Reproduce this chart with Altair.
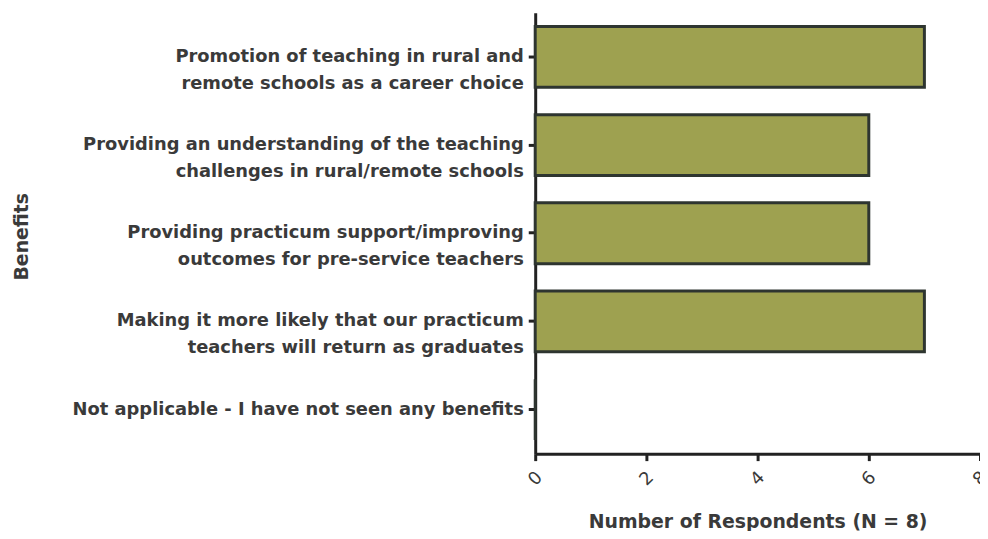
import altair as alt
import pandas as pd

# Data
categories = [
    "Promotion of teaching in rural and|remote schools as a career choice",
    "Providing an understanding of the teaching|challenges in rural/remote schools",
    "Providing practicum support/improving|outcomes for pre-service teachers",
    "Making it more likely that our practicum|teachers will return as graduates",
    "Not applicable - I have not seen any benefits",
]
respondents = [7, 6, 6, 7, 0]
x_ticks = [0, 2, 4, 6, 8]
x_title = "Number of Respondents (N = 8)"
y_title = "Benefits"

df = pd.DataFrame({"benefit": categories, "n": respondents})

FONT = "DejaVu Sans"
AXIS_COLOR = "#222222"
TEXT_COLOR = "#3a3a3a"

bars = (
    alt.Chart(df)
    .mark_bar(color="#9ea150", stroke="#2e3530", strokeWidth=3)
    .encode(
        x=alt.X(
            "n:Q",
            scale=alt.Scale(domain=[0, 8], nice=False),
            axis=alt.Axis(
                values=x_ticks,
                title=x_title,
                grid=False,
                labelAngle=-45,
                labelAlign="center",
                labelBaseline="middle",
                labelPadding=18,
                labelFont=FONT,
                labelFontSize=18,
                labelColor=TEXT_COLOR,
                domainColor=AXIS_COLOR,
                domainWidth=3,
                tickColor=AXIS_COLOR,
                tickWidth=3,
                tickSize=7,
                titleFont=FONT,
                titleFontSize=19,
                titleFontWeight="bold",
                titleColor=TEXT_COLOR,
                titlePadding=24,
            ),
        ),
        y=alt.Y(
            "benefit:N",
            sort=categories,
            scale=alt.Scale(paddingInner=0.31, paddingOuter=0.155),
            axis=alt.Axis(
                title=y_title,
                grid=False,
                labelExpr="split(datum.value, '|')",
                labelAlign="right",
                labelBaseline="middle",
                labelLineHeight=27,
                labelLimit=0,
                labelPadding=5,
                labelFont=FONT,
                labelFontSize=18,
                labelFontWeight="bold",
                labelColor=TEXT_COLOR,
                domainColor=AXIS_COLOR,
                domainWidth=3,
                tickColor=AXIS_COLOR,
                tickWidth=3,
                tickSize=7,
                titleFont=FONT,
                titleFontSize=19,
                titleFontWeight="bold",
                titleColor=TEXT_COLOR,
                titleX=-517,
                titleY=225,
                titleAngle=-90,
                titleAlign="center",
                titleBaseline="middle",
            ),
        ),
    )
)

chart = (
    bars.properties(
        width=448,
        height=444,
        background="white",
        autosize=alt.AutoSizeParams(type="none"),
        padding={"left": 531, "top": 3, "right": 0, "bottom": 76},
    )
    .configure_view(stroke=None)
)

chart.save("out.html", embed_options={"renderer": "svg", "actions": False})
